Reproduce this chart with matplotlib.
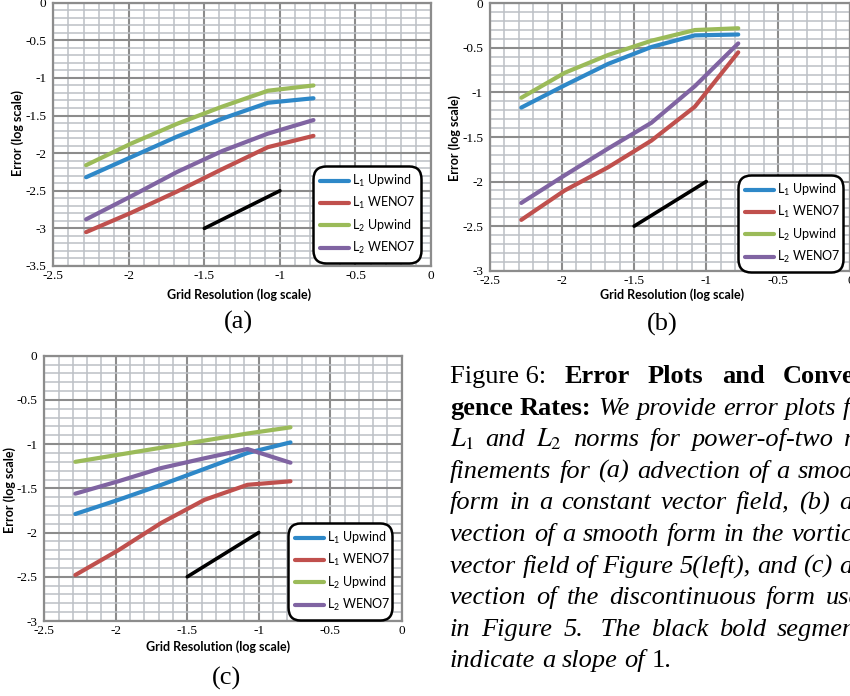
import matplotlib
matplotlib.use('Agg')
from matplotlib import pyplot as plt
from matplotlib.ticker import MultipleLocator, FuncFormatter

plt.rcParams['axes.unicode_minus'] = False
plt.rcParams['mathtext.fontset'] = 'custom'
plt.rcParams['mathtext.rm'] = 'Lato'
plt.rcParams['mathtext.it'] = 'Lato:italic'
plt.rcParams['mathtext.bf'] = 'Lato:bold'

# log10 of grid spacing h = 1/192 ... 1/6
grid_res = [-2.283, -1.982, -1.681, -1.380, -1.079, -0.778]

series_names = [r'$\mathrm{L}_1$ Upwind', r'$\mathrm{L}_1$ WENO7',
                r'$\mathrm{L}_2$ Upwind', r'$\mathrm{L}_2$ WENO7']
series_colors = ['#2e88c8', '#c0504d', '#9bbb59', '#8064a2']

# (a) constant vector field
a_l1_upwind = [-2.32, -2.05, -1.78, -1.54, -1.33, -1.27]
a_l1_weno7 = [-3.05, -2.79, -2.51, -2.21, -1.92, -1.77]
a_l2_upwind = [-2.16, -1.87, -1.61, -1.38, -1.17, -1.10]
a_l2_weno7 = [-2.88, -2.57, -2.25, -1.97, -1.74, -1.56]

# (b) vortical vector field
b_l1_upwind = [-1.17, -0.92, -0.68, -0.49, -0.36, -0.35]
b_l1_weno7 = [-2.43, -2.10, -1.84, -1.54, -1.16, -0.55]
b_l2_upwind = [-1.06, -0.78, -0.58, -0.42, -0.30, -0.28]
b_l2_weno7 = [-2.24, -1.93, -1.63, -1.34, -0.93, -0.45]

# (c) discontinuous form
c_l1_upwind = [-1.79, -1.63, -1.46, -1.28, -1.10, -0.98]
c_l1_weno7 = [-2.48, -2.20, -1.89, -1.63, -1.46, -1.42]
c_l2_upwind = [-1.20, -1.12, -1.04, -0.96, -0.88, -0.81]
c_l2_weno7 = [-1.56, -1.42, -1.27, -1.16, -1.055, -1.21]

# slope-1 reference segments
slope_x = [-1.5, -1.0]
slope_a = [-3.0, -2.5]
slope_bc = [-2.5, -2.0]

caption_lines = [
    [('Figure 6:', 'r'), ('Error', 'b'), ('Plots', 'b'), ('and', 'b'), ('Conver-', 'b')],
    [('gence', 'b'), ('Rates:', 'b'), ('We', 'i'), ('provide', 'i'), ('error', 'i'),
     ('plots', 'i'), ('for', 'i')],
    [('$L_1$', 'i'), ('and', 'i'), ('$L_2$', 'i'), ('norms', 'i'), ('for', 'i'),
     ('power-of-two', 'i'), ('re-', 'i')],
    [('finements', 'i'), ('for', 'i'), ('(a)', 'i'), ('advection', 'i'), ('of', 'i'),
     ('a', 'i'), ('smooth', 'i')],
    [('form', 'i'), ('in', 'i'), ('a', 'i'), ('constant', 'i'), ('vector', 'i'),
     ('field,', 'i'), ('(b)', 'i'), ('ad-', 'i')],
    [('vection', 'i'), ('of', 'i'), ('a', 'i'), ('smooth', 'i'), ('form', 'i'), ('in', 'i'),
     ('the', 'i'), ('vortical', 'i')],
    [('vector', 'i'), ('field', 'i'), ('of', 'i'), ('Figure', 'i'), ('5(left),', 'i'),
     ('and', 'i'), ('(c)', 'i'), ('ad-', 'i')],
    [('vection', 'i'), ('of', 'i'), ('the', 'i'), ('discontinuous', 'i'), ('form', 'i'),
     ('used', 'i')],
    [('in', 'i'), ('Figure', 'i'), ('5.', 'i'), (' The', 'i'), ('black', 'i'), ('bold', 'i'),
     ('segments', 'i')],
    [('indicate', 'i'), ('a', 'i'), ('slope', 'i'), ('of', 'i'), ('1.', 'r')],
]

W, H = 850, 696
fig = plt.figure(figsize=(W / 100, H / 100), dpi=100)
fig.patch.set_facecolor('white')

label_font = dict(fontfamily='Lato', fontweight='bold', fontsize=9)


def px_axes(x0, x1, y0, y1):
    return fig.add_axes([x0 / W, 1 - y1 / H, (x1 - x0) / W, (y1 - y0) / H])


def error_panel(ax, curves, slope_y, ymin, legend_px, xlabel_px, ylabel_px):
    for vals, name, color in zip(curves, series_names, series_colors):
        ax.plot(grid_res, vals, color=color, lw=3.0, label=name,
                solid_capstyle='round', solid_joinstyle='round', zorder=3)
    ax.plot(slope_x, slope_y, color='black', lw=2.6, solid_capstyle='round', zorder=3)

    ax.set_xlim(-2.5, 0)
    ax.set_ylim(ymin, 0)
    ax.xaxis.set_major_locator(MultipleLocator(0.5))
    ax.yaxis.set_major_locator(MultipleLocator(0.5))
    ax.xaxis.set_minor_locator(MultipleLocator(0.1))
    ax.yaxis.set_minor_locator(MultipleLocator(0.1))
    fmt = FuncFormatter(lambda v, p: f'{v + 0:g}')
    ax.xaxis.set_major_formatter(fmt)
    ax.yaxis.set_major_formatter(fmt)
    ax.grid(which='major', color='#8c8c8c', lw=1.5)
    ax.grid(which='minor', color='#bcc0c5', lw=1.1)
    ax.set_axisbelow(True)
    for sp in ax.spines.values():
        sp.set_color('#8c8c8c')
        sp.set_linewidth(1.6)
    ax.tick_params(which='both', length=0)
    ax.tick_params(axis='x', pad=3)
    ax.tick_params(axis='y', pad=5)
    for t in ax.get_xticklabels() + ax.get_yticklabels():
        t.set_fontfamily('Liberation Serif')
        t.set_fontsize(9.5)

    # axis titles, placed by pixel centre
    bb = ax.get_position()
    x0, x1 = bb.x0 * W, bb.x1 * W
    y_top, y_bot = (1 - bb.y1) * H, (1 - bb.y0) * H
    ax.set_xlabel('Grid Resolution (log scale)', va='center', **label_font)
    ax.xaxis.set_label_coords((xlabel_px[0] - x0) / (x1 - x0),
                              (y_bot - xlabel_px[1]) / (y_bot - y_top))
    ax.set_ylabel('Error (log scale)', va='center', **label_font)
    ax.yaxis.set_label_coords((ylabel_px[0] - x0) / (x1 - x0),
                              (y_bot - ylabel_px[1]) / (y_bot - y_top))

    lx0, lx1, ly0, ly1 = legend_px
    box = ((lx0 - x0) / (x1 - x0), (y_bot - ly1) / (y_bot - y_top),
           (lx1 - lx0) / (x1 - x0), (ly1 - ly0) / (y_bot - y_top))
    leg = ax.legend(loc='upper left', bbox_to_anchor=box, mode='expand',
                    borderaxespad=0, handlelength=2.3, handletextpad=0.25,
                    labelspacing=0.5, borderpad=0.55, framealpha=1,
                    prop={'family': 'Lato', 'size': 9})
    frame = leg.get_frame()
    frame.set_edgecolor('black')
    frame.set_linewidth(1.8)
    frame.set_boxstyle('round', pad=0, rounding_size=1.0)
    for line in leg.get_lines():
        line.set_linewidth(3.0)


ax_a = px_axes(53.3, 431, 2.7, 266)
error_panel(ax_a, [a_l1_upwind, a_l1_weno7, a_l2_upwind, a_l2_weno7], slope_a, -3.5,
            (313, 421, 166, 256), (239, 295), (18, 133))

ax_b = px_axes(490, 850.4, 3.3, 270.7)
error_panel(ax_b, [b_l1_upwind, b_l1_weno7, b_l2_upwind, b_l2_weno7], slope_bc, -3.0,
            (738, 843, 175, 262), (672, 295), (455, 138))

ax_c = px_axes(44.3, 401.7, 355.7, 621)
error_panel(ax_c, [c_l1_upwind, c_l1_weno7, c_l2_upwind, c_l2_weno7], slope_bc, -3.0,
            (288, 392, 523, 609), (218, 647), (10, 490))

for name, (px, py) in zip(['(a)', '(b)', '(c)'], [(238, 322), (662, 324), (227, 678)]):
    fig.text(px / W, 1 - py / H, name, ha='center', va='center',
             fontfamily='Liberation Serif', fontsize=19)

# caption, justified word by word
styles = {'r': dict(fontweight='normal', fontstyle='normal'),
          'b': dict(fontweight='bold', fontstyle='normal'),
          'i': dict(fontweight='normal', fontstyle='italic')}
renderer = fig.canvas.get_renderer()
cap_left, cap_right = 450, 874
cap_base, cap_step = 383, 31.6
for i, words in enumerate(caption_lines):
    y = 1 - (cap_base + i * cap_step) / H
    texts = []
    for word, st in words:
        t = fig.text(0, y, word, va='baseline', ha='left', fontfamily='Liberation Serif',
                     fontsize=19, math_fontfamily='stix', **styles[st])
        texts.append(t)
    widths = [t.get_window_extent(renderer).width for t in texts]
    if i == len(caption_lines) - 1:
        gap = 6.6
    else:
        gap = (cap_right - cap_left - sum(widths)) / (len(texts) - 1)
    x = cap_left
    for t, w in zip(texts, widths):
        t.set_x(x / W)
        x += w + gap

fig.savefig('out.png', dpi=100, facecolor='white')
